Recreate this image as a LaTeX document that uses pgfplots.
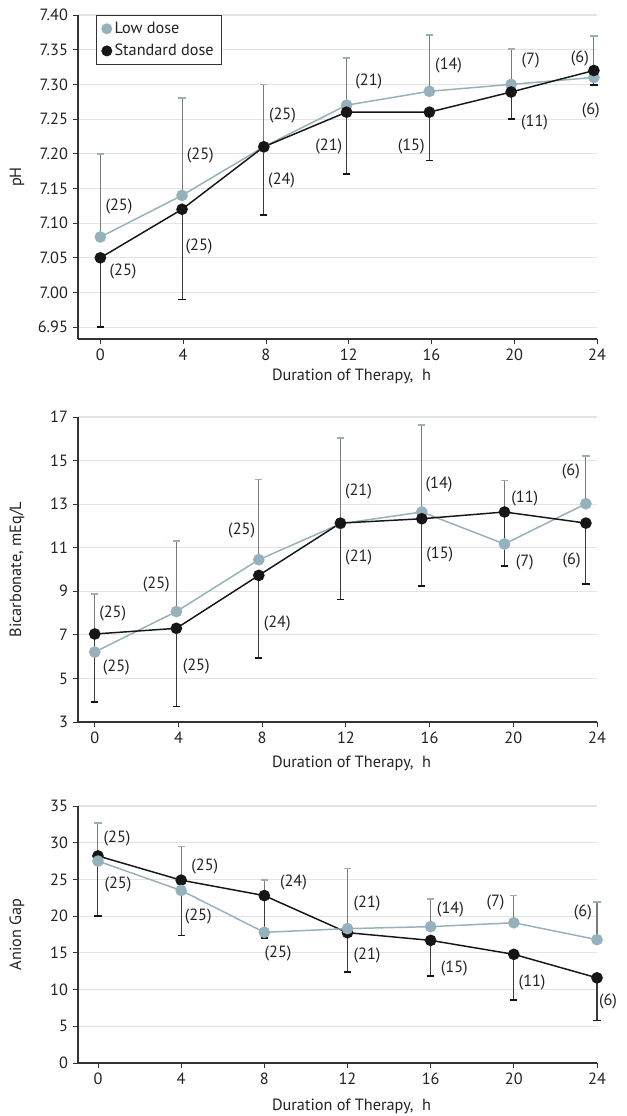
\documentclass[border=0pt]{standalone}
\usepackage{fontspec}
\setmainfont{PT Sans}
\usepackage{pgfplots}
\pgfplotsset{compat=1.18}
\definecolor{lowc}{HTML}{94B1BC}
\definecolor{stdc}{HTML}{161616}
\definecolor{barlow}{HTML}{7A7A7A}
\definecolor{barstd}{HTML}{3A3A3A}
\definecolor{gridc}{HTML}{E3E3E3}
\definecolor{axisc}{HTML}{333333}
\definecolor{txtc}{HTML}{222222}
\pgfplotsset{
  panel/.style={
    scale only axis, width=389.25pt,
    xmax=24,
    axis x line*=bottom, axis y line*=left,
    xtick={0,4,...,24},
    tick align=outside, major tick length=4pt,
    tick style={color=axisc, line width=0.6pt},
    axis line style={color=axisc, line width=0.8pt},
    ymajorgrids, grid style={color=gridc, line width=0.8pt},
    clip=false,
    /pgf/number format/assume math mode=true,
    ticklabel style={color=txtc},
    label style={color=txtc},
    xlabel={Duration of Therapy,\ \ h},
    ylabel style={at={(axis description cs:-0.1175,0.5)}, anchor=center},
  },
  lowbars/.style={forget plot, only marks, mark=none,
    error bars/.cd, y dir=plus, y explicit,
    error bar style={line width=0.8pt, color=barlow},
    error mark options={rotate=90, mark size=2.7pt, line width=1.2pt, color=lowc}},
  stdbars/.style={forget plot, only marks, mark=none,
    error bars/.cd, y dir=minus, y explicit,
    error bar style={line width=0.8pt, color=barstd},
    error mark options={rotate=90, mark size=2.7pt, line width=1.2pt, color=stdc}},
  lowline/.style={forget plot, lowc, line width=1.1pt, mark=*, mark size=3.8pt, mark options={solid, fill=lowc, draw=lowc}},
  stdline/.style={forget plot, stdc, line width=1.1pt, mark=*, mark size=3.8pt, mark options={solid, fill=stdc, draw=stdc}},
}
\begin{document}
\begin{tikzpicture}[font=\fontsize{12.2pt}{14pt}\selectfont]
% ---------------- Panel 1: pH ----------------
\begin{axis}[panel, at={(0pt,0pt)}, anchor=north west,
  height=243pt, xmin=-1.08, ymin=6.933, ymax=7.40,
  ytick={6.95,7.00,...,7.40},
  yticklabel style={/pgf/number format/.cd, fixed, fixed zerofill, precision=2},
  ylabel={pH},
  xlabel style={at={(axis description cs:0.527,0)}, yshift=-27.75pt, anchor=center},
  legend style={at={(axis description cs:0.0347,1)}, anchor=north west, draw=axisc, line width=0.6pt,
    inner xsep=4pt, inner ysep=3pt, row sep=2.5pt, font=\fontsize{12.2pt}{14pt}\selectfont, text=txtc},
  legend cell align=left]
\addlegendimage{only marks, mark=*, mark size=3.8pt, lowc}
\addlegendentry{Low dose}
\addlegendimage{only marks, mark=*, mark size=3.8pt, stdc}
\addlegendentry{Standard dose}
\addplot[lowbars] coordinates {(0,7.08) +- (0,0.12) (3.95,7.14) +- (0,0.14) (7.9,7.21) +- (0,0.09) (11.9,7.27) +- (0,0.068) (15.9,7.29) +- (0,0.081) (19.85,7.30) +- (0,0.051) (23.85,7.31) +- (0,0.06)};
\addplot[stdbars] coordinates {(0,7.05) +- (0,0.10) (3.95,7.12) +- (0,0.13) (7.9,7.21) +- (0,0.098) (11.9,7.26) +- (0,0.089) (15.9,7.26) +- (0,0.07) (19.85,7.289) +- (0,0.039) (23.85,7.32) +- (0,0.021)};
\addplot[lowline] coordinates {(0,7.08) (3.95,7.14) (7.9,7.21) (11.9,7.27) (15.9,7.29) (19.85,7.30) (23.85,7.31)};
\addplot[stdline] coordinates {(0,7.05) (3.95,7.12) (7.9,7.21) (11.9,7.26) (15.9,7.26) (19.85,7.289) (23.85,7.32)};
\begin{scope}[every node/.style={text=txtc}]
\node at (axis cs:0.9,7.124) {(25)};
\node at (axis cs:1.1,7.031) {(25)};
\node at (axis cs:4.83,7.198) {(25)};
\node at (axis cs:4.77,7.067) {(25)};
\node at (axis cs:8.8,7.255) {(25)};
\node at (axis cs:8.76,7.161) {(24)};
\node at (axis cs:12.97,7.304) {(21)};
\node at (axis cs:11.04,7.21) {(21)};
\node at (axis cs:16.83,7.327) {(14)};
\node at (axis cs:15.02,7.21) {(15)};
\node at (axis cs:20.79,7.335) {(7)};
\node at (axis cs:20.98,7.245) {(11)};
\node at (axis cs:23.17,7.338) {(6)};
\node at (axis cs:23.7,7.263) {(6)};
\end{scope}
\end{axis}
% ---------------- Panel 2: Bicarbonate ----------------
\begin{axis}[panel, at={(0pt,-301.5pt)}, anchor=north west,
  height=228.75pt, xmin=-0.8, ymin=3, ymax=17,
  ytick={3,5,...,17},
  ylabel={Bicarbonate, mEq/L},
  xlabel style={at={(axis description cs:0.527,0)}, yshift=-30.75pt, anchor=center}]
\addplot[lowbars] coordinates {(0,6.21) +- (0,2.67) (3.9,8.07) +- (0,3.25) (7.84,10.45) +- (0,3.69) (11.74,12.1) +- (0,3.95) (15.63,12.64) +- (0,3.99) (19.58,11.17) +- (0,2.92) (23.47,13.02) +- (0,2.19)};
\addplot[stdbars] coordinates {(0,7.04) +- (0,3.12) (3.9,7.30) +- (0,3.58) (7.84,9.73) +- (0,3.79) (11.74,12.13) +- (0,3.51) (15.63,12.33) +- (0,3.09) (19.58,12.64) +- (0,2.48) (23.47,12.13) +- (0,2.80)};
\addplot[lowline] coordinates {(0,6.21) (3.9,8.07) (7.84,10.45) (11.74,12.1) (15.63,12.64) (19.58,11.17) (23.47,13.02)};
\addplot[stdline] coordinates {(0,7.04) (3.9,7.30) (7.84,9.73) (11.74,12.13) (15.63,12.33) (19.58,12.64) (23.47,12.13)};
\begin{scope}[every node/.style={text=txtc}]
\node at (axis cs:0.86,8.0) {(25)};
\node at (axis cs:1.03,5.52) {(25)};
\node at (axis cs:2.94,9.32) {(25)};
\node at (axis cs:4.85,5.56) {(25)};
\node at (axis cs:7.02,11.80) {(25)};
\node at (axis cs:8.72,7.54) {(24)};
\node at (axis cs:12.6,13.6) {(21)};
\node at (axis cs:12.61,10.57) {(21)};
\node at (axis cs:16.45,13.89) {(14)};
\node at (axis cs:16.49,10.70) {(15)};
\node at (axis cs:20.55,13.24) {(11)};
\node at (axis cs:20.55,10.31) {(7)};
\node at (axis cs:22.75,14.48) {(6)};
\node at (axis cs:22.79,10.42) {(6)};
\end{scope}
\end{axis}
% ---------------- Panel 3: Anion Gap ----------------
\begin{axis}[panel, at={(0pt,-593.25pt)}, anchor=north west,
  height=192.75pt, xmin=-0.96, ymin=0, ymax=35,
  ytick={0,5,...,35},
  ylabel={Anion Gap},
  xlabel style={at={(axis description cs:0.527,0)}, yshift=-32.25pt, anchor=center}]
\addplot[lowbars] coordinates {(0,27.5) +- (0,5.2) (4,23.5) +- (0,6.0) (8,17.8) +- (0,7.1) (12,18.3) +- (0,8.2) (16,18.57) +- (0,3.73) (20,19.1) +- (0,3.7) (24,16.8) +- (0,5.16)};
\addplot[stdbars] coordinates {(0,28.2) +- (0,8.2) (4,24.9) +- (0,7.55) (8,22.8) +- (0,5.8) (12,17.75) +- (0,5.39) (16,16.7) +- (0,4.84) (20,14.8) +- (0,6.24) (24,11.6) +- (0,5.8)};
\addplot[stdline] coordinates {(0,28.2) (4,24.9) (8,22.8) (12,17.75) (16,16.7) (20,14.8) (24,11.6)};
\addplot[lowline] coordinates {(0,27.5) (4,23.5) (8,17.8) (12,18.3) (16,18.57) (20,19.1) (24,16.8)};
\begin{scope}[every node/.style={text=txtc}]
\node at (axis cs:0.92,30.56) {(25)};
\node at (axis cs:0.96,24.36) {(25)};
\node at (axis cs:5.14,26.8) {(25)};
\node at (axis cs:4.82,20.0) {(25)};
\node at (axis cs:9.4,24.54) {(24)};
\node at (axis cs:8.66,14.85) {(25)};
\node at (axis cs:12.94,21.74) {(21)};
\node at (axis cs:12.94,14.63) {(21)};
\node at (axis cs:16.95,20.97) {(14)};
\node at (axis cs:17.14,12.9) {(15)};
\node at (axis cs:19.12,21.87) {(7)};
\node at (axis cs:20.88,10.96) {(11)};
\node at (axis cs:23.32,20.51) {(6)};
\node at (axis cs:24.53,8.4) {(6)};
\end{scope}
\end{axis}
\pgfresetboundingbox
\path (-58.5pt,11.25pt) rectangle (411pt,-825.75pt);
\end{tikzpicture}
\end{document}
